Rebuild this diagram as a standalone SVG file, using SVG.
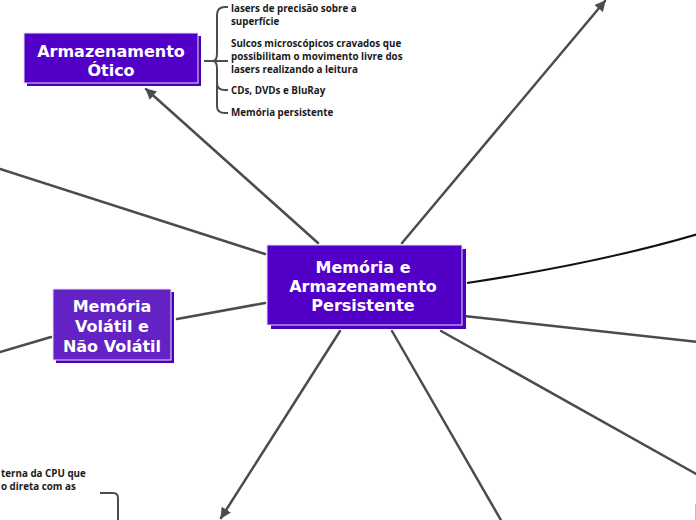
<svg xmlns="http://www.w3.org/2000/svg" width="696" height="520" viewBox="0 0 696 520">
<style>
.bg{fill:#ffffff}
.con{stroke:#484d4d;stroke-width:2.5;fill:none;stroke-linecap:round}
.br{stroke:#484d4d;stroke-width:2;fill:none}
.shadow{fill:#4c00b8}
.box{fill:#5200c8;stroke:#e6dcf7;stroke-width:1}
.box2{fill:#6322c4;stroke:#e6dcf7;stroke-width:1}
.nt{font-family:"DejaVu Sans",Verdana,sans-serif;font-weight:bold;font-size:16px;fill:#ffffff;text-anchor:middle}
.st{font-family:"Open Sans","Noto Sans",sans-serif;font-weight:bold;font-size:9.8px;fill:#1a1a1a}
</style>
<defs>
<marker id="ah" viewBox="0 0 10 10" refX="9" refY="5" markerWidth="4.4" markerHeight="4.4" orient="auto" markerUnits="strokeWidth">
<path d="M0,0 L10,5 L0,10 Z" fill="#484d4d"/>
</marker>
</defs>
<rect class="bg" x="0" y="0" width="696" height="520"/>
<g id="connectors">
<line class="con" x1="318" y1="243" x2="146" y2="89" marker-end="url(#ah)"/>
<line class="con" x1="402" y1="243" x2="605" y2="1" marker-end="url(#ah)"/>
<line class="con" x1="265" y1="254" x2="0" y2="169"/>
<line class="con" x1="265" y1="303" x2="177" y2="319"/>
<line class="con" x1="51" y1="337" x2="0" y2="352"/>
<line class="con" x1="340" y1="331" x2="221" y2="518" marker-end="url(#ah)"/>
<line class="con" x1="392" y1="331" x2="502" y2="522"/>
<line class="con" x1="441" y1="331" x2="698" y2="475"/>
<line class="con" x1="464" y1="316" x2="698" y2="342"/>
<path d="M467,283 C540,272 620,257 698,234" stroke="#111" stroke-width="2" fill="none"/>
<path class="br" d="M204,61 H213 M213,61 Q217,61 217,53 V15 Q217,7 225,7 H228 M213,61 H228 M213,61 Q217,61 217,69 V83 Q217,90 225,90 H228 M217,83 V106 Q217,113 225,113 H228"/>
<path class="br" d="M100,493 H113 Q118,493 118,498 V520"/>
</g>
<g id="node-central">
<rect class="shadow" x="271" y="249" width="195" height="80"/>
<rect class="box" x="267" y="245" width="195" height="80"/>
<text class="nt" x="363" y="273">Memória e</text>
<text class="nt" x="363" y="292">Armazenamento</text>
<text class="nt" x="363" y="311">Persistente</text>
</g>
<g id="node-otico">
<rect class="shadow" x="27" y="36" width="174" height="50"/>
<rect class="box" x="24" y="33" width="174" height="50"/>
<text class="nt" x="111" y="57">Armazenamento</text>
<text class="nt" x="111" y="76">Ótico</text>
</g>
<g id="node-volatil">
<rect class="shadow" x="56" y="292" width="118" height="71"/>
<rect class="box2" x="53" y="289" width="118" height="71"/>
<text class="nt" x="112" y="312">Memória</text>
<text class="nt" x="112" y="332">Volátil e</text>
<text class="nt" x="112" y="352">Não Volátil</text>
</g>
<g id="node-otico-details">
<text class="st" x="231" y="12">lasers de precisão sobre a</text>
<text class="st" x="231" y="25">superfície</text>
<text class="st" x="231" y="47">Sulcos microscópicos cravados que</text>
<text class="st" x="231" y="60">possibilitam o movimento livre dos</text>
<text class="st" x="231" y="73">lasers realizando a leitura</text>
<text class="st" x="231" y="94">CDs, DVDs e BluRay</text>
<text class="st" x="231" y="116">Memória persistente</text>
</g>
<g id="node-cpu-text">
<text class="st" x="1" y="477">terna da CPU que</text>
<text class="st" x="1" y="490">o direta com as</text>
</g>
<g id="node-bottom-right">
<rect x="695" y="504" width="10" height="30" fill="#c6b2ee"/>
</g>
</svg>
